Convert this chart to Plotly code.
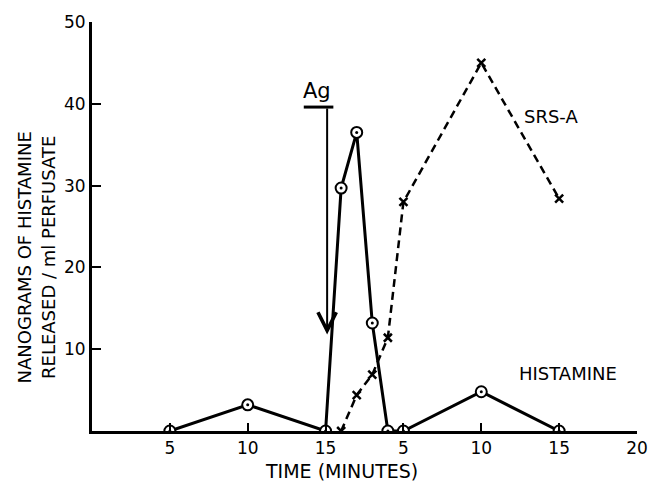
import plotly.graph_objects as go

# Data (time positions on a continuous axis; second segment relabelled)
hist_x = [5, 10, 15, 16, 17, 18, 19, 20, 25, 30]
hist_y = [0, 3.2, 0, 29.7, 36.5, 13.2, 0, 0, 4.8, 0]

srs_x = [16, 17, 18, 19, 20, 25, 30]
srs_y = [0, 4.4, 6.9, 11.4, 28.0, 45.0, 28.4]

x_tickvals = [5, 10, 15, 20, 25, 30, 35]
x_ticktext = ["5", "10", "15", "5", "10", "15", "20"]
y_tickvals = [10, 20, 30, 40, 50]
y_ticktext = ["10", "20", "30", "40", "50"]

FONT = "DejaVu Sans"

fig = go.Figure()

fig.add_trace(go.Scatter(
    x=srs_x, y=srs_y, mode="lines+markers", name="SRS-A",
    line=dict(color="black", width=2.5, dash="8px,5px"),
    marker=dict(symbol="x-thin", size=8, line=dict(color="black", width=2.5)),
))

fig.add_trace(go.Scatter(
    x=hist_x, y=hist_y, mode="lines+markers", name="HISTAMINE",
    line=dict(color="black", width=3),
    marker=dict(symbol="circle", size=11, color="white",
                line=dict(color="black", width=2)),
))
# centre dots of the histamine markers
fig.add_trace(go.Scatter(
    x=hist_x, y=hist_y, mode="markers", name="HISTAMINE dots",
    marker=dict(symbol="circle", size=3, color="black"),
))

fig.update_layout(
    width=660, height=485,
    margin=dict(l=92, r=15, t=16, b=54),
    paper_bgcolor="white", plot_bgcolor="white",
    showlegend=False,
    font=dict(family=FONT, color="black", size=16),
)

fig.update_xaxes(
    range=[0, 35], showgrid=False, zeroline=False,
    showline=True, linecolor="black", linewidth=3,
    ticks="inside", ticklen=8, tickwidth=2, tickcolor="black",
    tickvals=x_tickvals, ticktext=x_ticktext,
    tickfont=dict(family=FONT, size=17, color="black"),
)
fig.update_yaxes(
    range=[0, 50], showgrid=False, zeroline=False,
    showline=True, linecolor="black", linewidth=3,
    ticks="inside", ticklen=9, tickwidth=2, tickcolor="black",
    tickvals=y_tickvals, ticktext=y_ticktext,
    tickfont=dict(family=FONT, size=17, color="black"),
)

# Axis titles as annotations
fig.add_annotation(
    text="NANOGRAMS OF HISTAMINE<br>RELEASED / ml PERFUSATE",
    xref="paper", yref="paper", x=-0.103, y=0.424,
    xanchor="center", yanchor="middle", textangle=-90, showarrow=False,
    font=dict(family=FONT, size=18, color="black"),
)
fig.add_annotation(
    text="TIME (MINUTES)",
    xref="paper", yref="paper", x=0.4575, y=-0.099,
    xanchor="center", yanchor="middle", showarrow=False,
    font=dict(family=FONT, size=19, color="black"),
)

# Series labels
fig.add_annotation(text="SRS-A", x=29.47, y=38.4, xref="x", yref="y",
                   showarrow=False, font=dict(family=FONT, size=18, color="black"))
fig.add_annotation(text="HISTAMINE", x=30.57, y=7.0, xref="x", yref="y",
                   showarrow=False, font=dict(family=FONT, size=18, color="black"))

# Antigen arrow
fig.add_annotation(text="Ag", x=14.47, y=41.6, xref="x", yref="y",
                   showarrow=False, font=dict(family=FONT, size=21, color="black"))
fig.add_shape(type="line", x0=13.6, x1=15.5, y0=39.6, y1=39.6, xref="x", yref="y",
              line=dict(color="black", width=3))
fig.add_annotation(text="", x=15.1, y=11.8, ax=15.1, ay=39.6,
                   xref="x", yref="y", axref="x", ayref="y",
                   showarrow=True, arrowhead=5, arrowsize=1.8, arrowwidth=2,
                   arrowcolor="black")

fig.write_html("out.html")
